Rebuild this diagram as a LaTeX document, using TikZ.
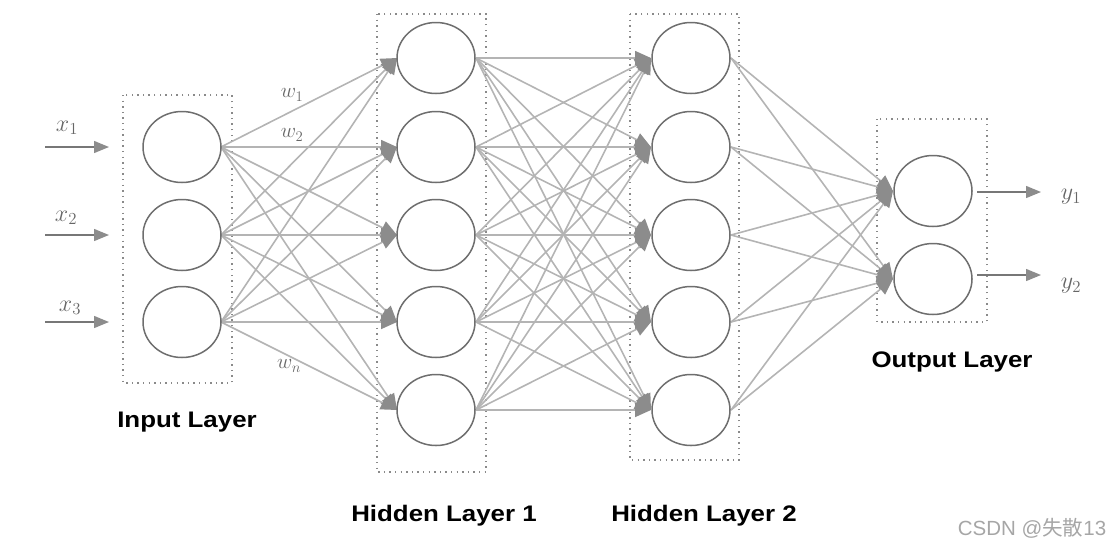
\documentclass[tikz,border=0pt]{standalone}
\usepackage{fix-cm}
\usepackage{fontspec}
\setsansfont{Liberation Sans}
\newfontfamily\titlefont[FakeStretch=1.15]{Liberation Sans}
\newfontfamily\cjk{Noto Sans CJK SC}
\usetikzlibrary{arrows.meta,shapes.geometric}
\definecolor{edgec}{HTML}{B4B4B4}
\definecolor{tipc}{HTML}{8C8C8C}
\definecolor{circc}{HTML}{6E6E6E}
\definecolor{boxc}{HTML}{8A8A8A}
\definecolor{labc}{HTML}{777777}
\definecolor{txtc}{HTML}{666666}
\tikzset{
  neuron/.style={ellipse,draw=circc,line width=1.5pt,minimum width=78pt,minimum height=71pt,inner sep=0pt,fill=white},
  layerbox/.style={draw=boxc,line width=1.4pt,dash pattern=on 1.4pt off 4.2pt},
  conn/.style={draw=edgec,line width=1.6pt,-{Triangle[length=16pt,width=14pt,color=tipc]}},
  inarrow/.style={draw=labc,line width=1.4pt,-{Triangle[length=15pt,width=12pt,color=tipc]}},
  title/.style={font=\titlefont\bfseries\fontsize{22.5}{26}\selectfont,text=black},
  vlab/.style={text=txtc,font=\fontsize{24}{26}\selectfont},
  wlab/.style={text=txtc,font=\fontsize{21}{23}\selectfont},
}
\begin{document}
\begin{tikzpicture}[x=1pt,y=-1pt]
\useasboundingbox (0,0) rectangle (1113,550);
% layer boxes
\draw[layerbox] (123,95) rectangle (232,383);
\draw[layerbox] (377,14) rectangle (486,472);
\draw[layerbox] (630,14) rectangle (739,460);
\draw[layerbox] (877,119) rectangle (987,322);
% edges (drawn first, nodes cover them)
\foreach \i/\y in {1/147,2/235,3/322} \coordinate (ia\i) at (221,\y);
\foreach \j/\y in {1/58,2/147,3/235,4/322,5/410} {
  \coordinate (ha\j) at (397,\y);
  \coordinate (hb\j) at (476,\y);
  \coordinate (hc\j) at (651,\y);
  \coordinate (hd\j) at (731,\y);
}
\foreach \k/\y in {1/191,2/279} {
  \coordinate (oa\k) at (893,\y);
  \coordinate (ob\k) at (974,\y);
}
\foreach \i in {1,2,3} \foreach \j in {1,...,5} \draw[conn] (ia\i) -- (ha\j);
\foreach \i in {1,...,5} \foreach \j in {1,...,5} \draw[conn] (hb\i) -- (hc\j);
\foreach \i in {1,...,5} \foreach \j in {1,2} \draw[conn] (hd\i) -- (oa\j);
% neurons
\foreach \i/\y in {1/147,2/235,3/322} \node[neuron] (in\i) at (182,\y) {};
\foreach \j/\y in {1/58,2/147,3/235,4/322,5/410} {
  \node[neuron] (ha\j n) at (436,\y) {};
  \node[neuron] (hb\j n) at (691,\y) {};
}
\node[neuron] (out1) at (933,191) {};
\node[neuron] (out2) at (933,279) {};
% inputs
\foreach \i/\y in {1/147,2/235,3/322} {
  \coordinate (src\i) at (45,\y);
  \coordinate (dst\i) at (109,\y);
  \draw[inarrow] (src\i) -- (dst\i);
}
\node[vlab] (x1) at (67,128) {$x_1$};
\node[vlab] (x2) at (66,218) {$x_2$};
\node[vlab] (x3) at (70,308) {$x_3$};
% outputs
\coordinate (y1s) at (977,192);
\coordinate (y1e) at (1041,192);
\coordinate (y2s) at (977,275);
\coordinate (y2e) at (1041,275);
\draw[inarrow] (y1s) -- (y1e);
\draw[inarrow] (y2s) -- (y2e);
\node[vlab] (y1) at (1071,197) {$y_1$};
\node[vlab] (y2) at (1071,286) {$y_2$};
% weights
\node[wlab] (w1) at (292,95) {$w_1$};
\node[wlab] (w2) at (292,135) {$w_2$};
\node[wlab] (wn) at (289,366) {$w_n$};
% titles
\node[title] (til) at (187,422) {Input Layer};
\node[title] (th1) at (444,516) {Hidden Layer 1};
\node[title] (th2) at (704,516) {Hidden Layer 2};
\node[title] (tout) at (952,362) {Output Layer};
\node[text=black!35,font=\sffamily\fontsize{20.5}{23}\selectfont] (wm) at (1032,528) {CSDN @{\cjk 失散}13};
\end{tikzpicture}
\end{document}
